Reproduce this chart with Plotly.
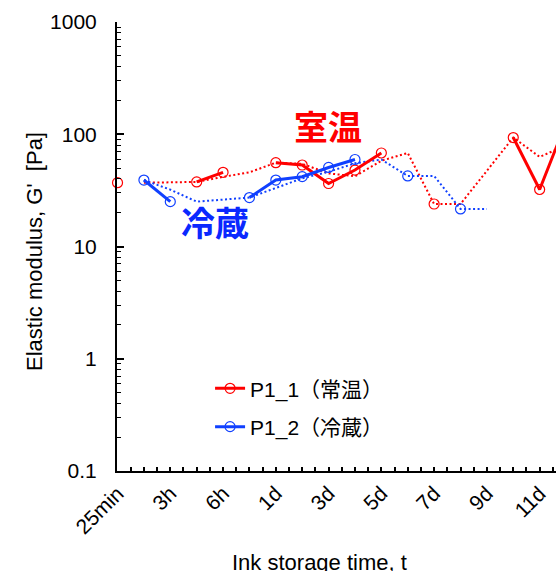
import plotly.graph_objects as go

# ---- data ----
tick_labels = ["25min", "3h", "6h", "1d", "3d", "5d", "7d", "9d", "11d"]
# category index positions (every category; labels shown on every second one)
x_index = list(range(18))
# P1_1 (常温) elastic modulus G' [Pa]; None = no measurement in that category
p1_1 = [37.0, None, None, 37.6, 45.8, None, 55.8, 53.2, 36.4, 48.0, 68.1,
        None, 23.9, None, None, 93.5, 32.2, 127.0]
# P1_2 (冷蔵)
p1_2 = [None, 39.1, 25.1, None, None, 27.3, 39.1, 41.9, 50.6, 59.6, None,
        42.5, None, 21.6, None, None, None, None]

RED = "#ff0000"
BLUE = "#1040ff"
FONT = "Liberation Sans, Arial, Noto Sans CJK JP, sans-serif"
CJK = "Noto Sans CJK JP, sans-serif"


def moving_average(vals, period=2):
    """Excel-style moving-average trendline (blank cells skipped)."""
    out = [None] * len(vals)
    for i in range(period - 1, len(vals)):
        w = [v for v in vals[i - period + 1:i + 1] if v is not None]
        if w:
            out[i] = sum(w) / len(w)
    return out


fig = go.Figure()

for vals, col in [(p1_1, RED), (p1_2, BLUE)]:
    fig.add_trace(go.Scatter(
        x=x_index, y=moving_average(vals), mode="lines",
        line=dict(color=col, width=2, dash="2px,2.5px"),
        connectgaps=True, showlegend=False, hoverinfo="skip"))

for vals, col, name, grp in [(p1_1, RED, "P1_1（常温）", "a"),
                             (p1_2, BLUE, "P1_2（冷蔵）", "b")]:
    fig.add_trace(go.Scatter(
        x=x_index, y=vals, mode="lines+markers", name=name, legendgroup=grp,
        line=dict(color=col, width=3),
        marker=dict(symbol="circle-open", size=10, color=col,
                    line=dict(width=1.2, color=col)),
        connectgaps=False, cliponaxis=False))

fig.update_layout(
    width=556, height=571,
    margin=dict(l=117, r=0, t=22, b=100),
    paper_bgcolor="white", plot_bgcolor="white",
    font=dict(family=FONT, color="black"),
    showlegend=True,
    legend=dict(x=0.212, y=0.229, xanchor="left", yanchor="top",
                bgcolor="rgba(0,0,0,0)", tracegroupgap=8,
                font=dict(size=21, family=FONT, color="black")),
    xaxis=dict(
        range=[-0.02, 16.62], showline=True, linecolor="black", linewidth=2,
        ticks="inside", ticklen=4, tickwidth=1.5, tickcolor="black",
        tickmode="array", tickvals=list(range(0, 17, 2)), ticktext=tick_labels,
        tickangle=-45, tickfont=dict(size=21, family=FONT),
        minor=dict(ticks="inside", dtick=0.5, tick0=0, ticklen=4,
                   tickwidth=1.5, tickcolor="black"),
        showgrid=False, zeroline=False),
    yaxis=dict(
        type="log", range=[-1, 3], showline=True, linecolor="black",
        linewidth=2, ticks="inside", ticklen=7, tickwidth=1.5,
        tickcolor="black", tickmode="array",
        tickvals=[0.1, 1, 10, 100, 1000],
        ticktext=["0.1", "1", "10", "100", "1000"],
        tickfont=dict(size=21, family=FONT), ticklabelstandoff=14,
        minor=dict(ticks="inside", dtick="D1", ticklen=4, tickwidth=1.2,
                   tickcolor="black"),
        showgrid=False, zeroline=False),
    annotations=[
        dict(text="<b>室温</b>", x=0.4795, y=0.770, xref="paper",
             yref="paper", showarrow=False, xanchor="center",
             yanchor="middle", font=dict(size=34, color=RED, family=CJK)),
        dict(text="<b>冷蔵</b>", x=0.2232, y=0.5557, xref="paper",
             yref="paper", showarrow=False, xanchor="center",
             yanchor="middle", font=dict(size=34, color="#0a28ff",
                                         family=CJK)),
        dict(text="Ink storage time, t", x=0.4624, y=-0.171,
             xref="paper", yref="paper", showarrow=False, xanchor="center",
             yanchor="top", font=dict(size=22, family=FONT)),
        dict(text="Elastic modulus, G'\u00a0\u00a0[Pa]", x=-0.1868, y=0.49,
             xref="paper", yref="paper", showarrow=False, textangle=-90,
             xanchor="center", yanchor="middle",
             font=dict(size=22, family=FONT)),
    ],
)

fig.write_html("out.html")
